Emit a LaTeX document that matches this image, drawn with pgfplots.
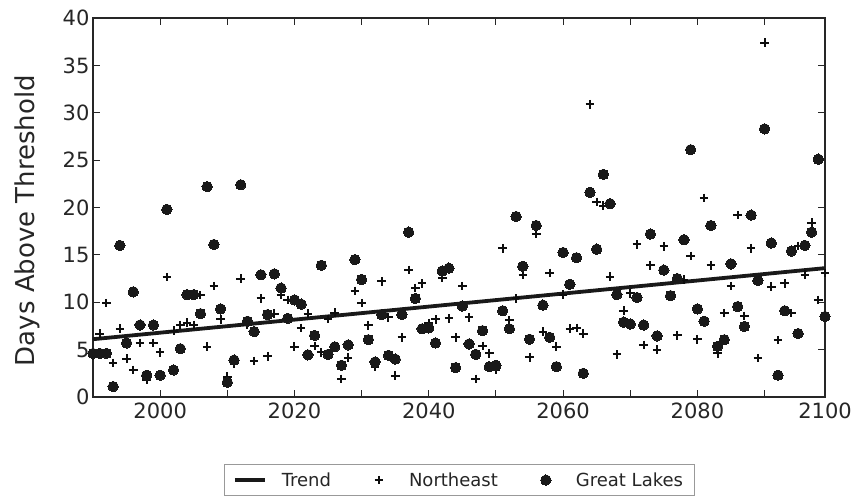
\documentclass[border=0pt]{standalone}
\usepackage{pgfplots}
\pgfplotsset{compat=1.18}
\usepackage{pgfplotstable}
\usepackage{fontspec}
\setmainfont{DejaVu Sans}
\definecolor{txt}{HTML}{262626}

\pgfplotsset{
  lineleg/.style={legend image code/.code={\draw[##1] (0pt,0pt) -- (30pt,0pt);}},
  markleg/.style={legend image code/.code={\path[draw=none,fill=none] (0pt,0pt) -- (30pt,0pt);\draw[##1] plot[only marks] coordinates {(15pt,0pt)};}},
}

\pgfplotstableread{
year ne
1990 4.4
1991 6.7
1992 9.9
1993 3.6
1994 7.2
1995 4.05
1996 2.85
1997 5.7
1998 1.8
1999 5.7
2000 4.7
2001 12.65
2002 7.0
2003 7.6
2004 7.85
2005 7.6
2006 10.75
2007 5.3
2008 11.7
2009 8.2
2010 2.15
2011 3.5
2012 12.5
2013 7.6
2014 3.8
2015 10.4
2016 4.3
2017 8.8
2018 10.8
2019 10.25
2020 5.3
2021 7.3
2022 8.8
2023 5.4
2024 4.7
2025 8.25
2026 8.9
2027 1.9
2028 4.15
2029 11.2
2030 9.9
2031 7.55
2032 3.2
2033 12.2
2034 8.4
2035 2.25
2036 6.3
2037 13.4
2038 11.5
2039 12.0
2040 7.8
2041 8.2
2042 12.6
2043 8.3
2044 6.3
2045 11.7
2046 8.4
2047 1.9
2048 5.4
2049 4.6
2050 2.9
2051 15.7
2052 8.1
2053 10.4
2054 12.9
2055 4.2
2056 17.2
2057 6.9
2058 13.1
2059 5.3
2060 10.8
2061 7.2
2062 7.3
2063 6.7
2064 30.9
2065 20.6
2066 20.2
2067 12.7
2068 4.5
2069 9.1
2070 10.95
2071 16.1
2072 5.5
2073 13.9
2074 5.0
2075 15.9
2076 10.6
2077 6.5
2078 12.4
2079 14.9
2080 6.1
2081 21.0
2082 13.9
2083 4.6
2084 8.85
2085 11.7
2086 19.2
2087 8.55
2088 15.7
2089 4.1
2090 37.4
2091 11.65
2092 6.0
2093 12.0
2094 8.85
2095 15.95
2096 12.9
2097 18.4
2098 10.25
2099 13.1
}\northeast

\pgfplotstableread{
year gl
1990 4.6
1991 4.6
1992 4.6
1993 1.1
1994 16.0
1995 5.7
1996 11.1
1997 7.6
1998 2.3
1999 7.6
2000 2.3
2001 19.8
2002 2.85
2003 5.1
2004 10.8
2005 10.8
2006 8.8
2007 22.2
2008 16.1
2009 9.3
2010 1.55
2011 3.9
2012 22.4
2013 8.0
2014 6.9
2015 12.9
2016 8.7
2017 13.0
2018 11.5
2019 8.3
2020 10.25
2021 9.8
2022 4.45
2023 6.5
2024 13.9
2025 4.5
2026 5.3
2027 3.35
2028 5.5
2029 14.5
2030 12.4
2031 6.05
2032 3.7
2033 8.7
2034 4.4
2035 4.0
2036 8.7
2037 17.4
2038 10.4
2039 7.2
2040 7.3
2041 5.7
2042 13.3
2043 13.6
2044 3.1
2045 9.6
2046 5.6
2047 4.5
2048 7.0
2049 3.2
2050 3.35
2051 9.1
2052 7.2
2053 19.05
2054 13.8
2055 6.1
2056 18.1
2057 9.7
2058 6.3
2059 3.2
2060 15.25
2061 11.9
2062 14.7
2063 2.5
2064 21.6
2065 15.6
2066 23.5
2067 20.4
2068 10.8
2069 7.9
2070 7.7
2071 10.5
2072 7.6
2073 17.2
2074 6.45
2075 13.4
2076 10.7
2077 12.5
2078 16.6
2079 26.1
2080 9.3
2081 8.0
2082 18.1
2083 5.35
2084 6.05
2085 14.05
2086 9.55
2087 7.45
2088 19.2
2089 12.3
2090 28.3
2091 16.25
2092 2.3
2093 9.1
2094 15.4
2095 6.7
2096 16.0
2097 17.4
2098 25.1
2099 8.5
}\greatlakes

\begin{document}
\begin{tikzpicture}
\begin{axis}[
  at={(0pt,0pt)}, anchor=south west,
  scale only axis,
  width=732pt, height=379pt,
  xmin=1990, xmax=2099,
  ymin=0, ymax=40,
  xtick={2000,2010,...,2090},
  xticklabels={2000,,2020,,2040,,2060,,2080,},
  ytick={0,5,...,40},
  tick align=inside,
  major tick length=7pt,
  every tick/.style={black!85, line width=0.9pt},
  axis line style={black!85, line width=1.6pt},
  tick label style={font=\fontsize{21}{25}\selectfont, text=txt},
  /pgf/number format/assume math mode=true,
  /pgf/number format/1000 sep={},
  xticklabel style={yshift=-2pt},
  ylabel={Days Above Threshold},
  every axis y label/.style={at={(rel axis cs:0,0.5)}, anchor=center, xshift=-66pt, yshift=-13pt, rotate=90, font=\fontsize{26}{30}\selectfont, text=txt},
  clip=false,
  legend columns=3,
  legend style={at={(0.5,-0.177)}, anchor=north, draw=black!40, line width=0.8pt,
    font=\fontsize{18}{22}\selectfont, text=txt,
    inner xsep=9pt, inner ysep=6pt,
    /tikz/every odd column/.append style={column sep=13pt},
    /tikz/every even column/.append style={column sep=31pt}},
]
\addplot[black!90, line width=3.8pt, lineleg]
  coordinates {(1990,6.1) (2099,13.6)};
\addlegendentry{Trend}
\addplot[only marks, mark=+, mark size=4.3pt, black!95, line width=2pt, markleg]
  table[x=year, y=ne] {\northeast};
\addlegendentry{Northeast}
\addplot[only marks, mark=*, mark size=5.2pt, black!90, mark options={draw=black!90, fill=black!90, line width=0pt}, markleg]
  table[x=year, y=gl] {\greatlakes};
\addlegendentry{Great Lakes}
\node[anchor=north, font=\fontsize{21}{25}\selectfont, text=txt] at (rel axis cs:1,0) [yshift=-2pt] {2100};
\end{axis}
\pgfresetboundingbox
\path (-93pt,-98pt) rectangle (771pt,397pt);
\end{tikzpicture}
\end{document}
